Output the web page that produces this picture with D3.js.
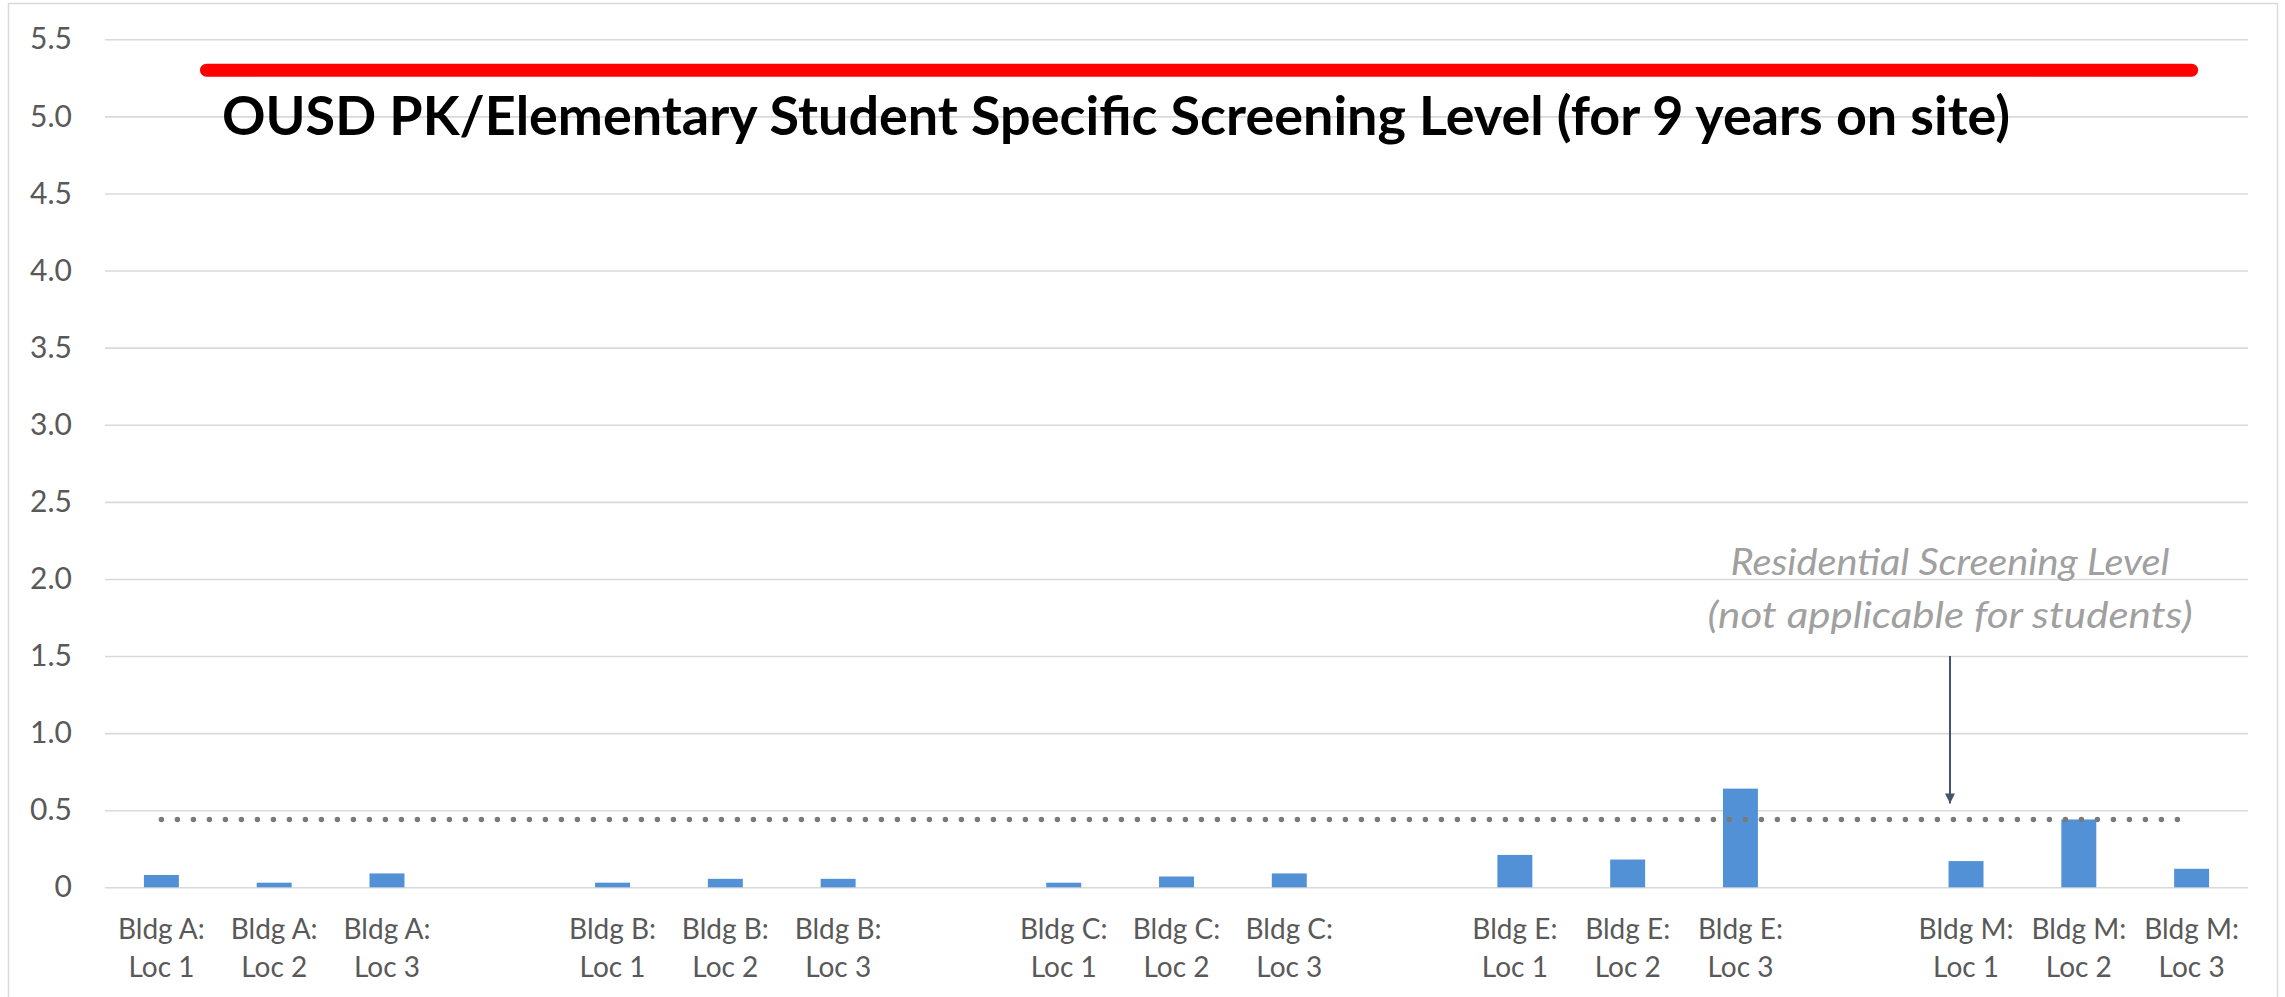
<!DOCTYPE html>
<html>
<head>
<meta charset="utf-8">
<script src="https://cdn.jsdelivr.net/npm/d3@7"></script>
<style>
  html, body { margin: 0; padding: 0; background: #ffffff; }
  svg { display: block; }
</style>
</head>
<body>
<svg id="chart" width="2285" height="997"></svg>
<script>
// ---- data ----
const categories = [
  "Bldg A:|Loc 1", "Bldg A:|Loc 2", "Bldg A:|Loc 3", "gap1",
  "Bldg B:|Loc 1", "Bldg B:|Loc 2", "Bldg B:|Loc 3", "gap2",
  "Bldg C:|Loc 1", "Bldg C:|Loc 2", "Bldg C:|Loc 3", "gap3",
  "Bldg E:|Loc 1", "Bldg E:|Loc 2", "Bldg E:|Loc 3", "gap4",
  "Bldg M:|Loc 1", "Bldg M:|Loc 2", "Bldg M:|Loc 3"
];
const values = [
  0.08, 0.03, 0.09, null,
  0.03, 0.055, 0.055, null,
  0.03, 0.07, 0.09, null,
  0.21, 0.18, 0.64, null,
  0.17, 0.44, 0.12
];
const yTicks = [0, 0.5, 1.0, 1.5, 2.0, 2.5, 3.0, 3.5, 4.0, 4.5, 5.0, 5.5];
const studentLevel = 5.3;
const residentialLevel = 0.44;
const studentLabel = "OUSD PK/Elementary Student Specific Screening Level (for 9 years on site)";
const residentialLabel = ["Residential Screening Level", "(not applicable for students)"];

// ---- layout ----
const svg = d3.select("#chart");
const plotLeft = 105, plotRight = 2248, plotTop = 39.3, plotBottom = 887.3;
const font = "Lato, 'Open Sans', 'DejaVu Sans', sans-serif";

// outer border
svg.append("rect")
  .attr("x", 8.5).attr("y", 3.5)
  .attr("width", 2269).attr("height", 1010)
  .attr("fill", "none").attr("stroke", "#d9d9d9").attr("stroke-width", 1.5);

const x = d3.scaleBand()
  .domain(categories)
  .range([plotLeft, plotRight])
  .paddingInner(0.69)
  .paddingOuter(0.345);

const y = d3.scaleLinear()
  .domain([0, 5.5])
  .range([plotBottom, plotTop]);

const cx = d => x(d) + x.bandwidth() / 2;

// y axis with gridlines
const yAxis = svg.append("g")
  .attr("transform", `translate(${plotLeft},0)`)
  .call(d3.axisLeft(y)
    .tickValues(yTicks)
    .tickSize(-(plotRight - plotLeft))
    .tickPadding(33)
    .tickFormat(d => d === 0 ? "0" : d.toFixed(1)));
yAxis.select(".domain").remove();
yAxis.selectAll(".tick line").attr("stroke", "#d9d9d9").attr("stroke-width", 1.6);
yAxis.selectAll(".tick text")
  .attr("fill", "#595959")
  .style("font-family", font)
  .style("font-size", "30px");

// x axis labels
const xAxis = svg.append("g")
  .attr("transform", `translate(0,${plotBottom})`)
  .call(d3.axisBottom(x).tickSize(0).tickFormat(d => d.startsWith("gap") ? "" : d));
xAxis.select(".domain").remove();
xAxis.selectAll(".tick text").each(function(d) {
  const t = d3.select(this);
  t.text(null).attr("y", 0).attr("dy", null)
    .attr("fill", "#595959")
    .style("font-family", font)
    .style("font-size", "28px");
  if (d.startsWith("gap")) return;
  const parts = d.split("|");
  t.append("tspan").attr("x", 0).attr("y", 52).text(parts[0]);
  t.append("tspan").attr("x", 0).attr("y", 90).text(parts[1]);
});

// bars
svg.append("g").selectAll("rect")
  .data(categories.map((c, i) => ({ c, v: values[i] })).filter(d => d.v !== null))
  .join("rect")
  .attr("x", d => x(d.c))
  .attr("width", x.bandwidth())
  .attr("y", d => y(d.v))
  .attr("height", d => y(0) - y(d.v))
  .attr("fill", "#5391d6");

// residential dotted line
svg.append("line")
  .attr("x1", cx(categories[0]))
  .attr("x2", cx(categories[categories.length - 1]))
  .attr("y1", y(residentialLevel))
  .attr("y2", y(residentialLevel))
  .attr("stroke", "#7a7a7a")
  .attr("stroke-width", 5.5)
  .attr("stroke-linecap", "round")
  .attr("stroke-dasharray", "0 16");

// student screening level red line
svg.append("line")
  .attr("x1", cx(categories[0]) + x.step() * 0.4)
  .attr("x2", cx(categories[categories.length - 1]))
  .attr("y1", y(studentLevel))
  .attr("y2", y(studentLevel))
  .attr("stroke", "#ff0000")
  .attr("stroke-width", 13)
  .attr("stroke-linecap", "round");

// title label
svg.append("text")
  .attr("x", 222)
  .attr("y", 135)
  .attr("textLength", 1788)
  .attr("lengthAdjust", "spacingAndGlyphs")
  .attr("fill", "#000000")
  .style("font-family", font)
  .style("font-weight", "bold")
  .style("font-size", "54px")
  .text(studentLabel);

// residential annotation
const annX = 1950;
const annLines = [
  { t: residentialLabel[0], y: 575, w: 439 },
  { t: residentialLabel[1], y: 628, w: 485 }
];
annLines.forEach(l => {
  svg.append("text")
    .attr("x", annX - l.w / 2).attr("y", l.y)
    .attr("textLength", l.w)
    .attr("lengthAdjust", "spacingAndGlyphs")
    .attr("fill", "#a0a0a0")
    .style("font-family", font)
    .style("font-style", "italic")
    .style("font-size", "37px")
    .text(l.t);
});

// arrow
const defs = svg.append("defs");
defs.append("marker")
  .attr("id", "arrowhead")
  .attr("viewBox", "0 0 10 10")
  .attr("refX", 10).attr("refY", 5)
  .attr("markerWidth", 5).attr("markerHeight", 5)
  .attr("markerUnits", "strokeWidth")
  .attr("orient", "auto")
  .append("path")
  .attr("d", "M0,0 L10,5 L0,10 Z")
  .attr("fill", "#44546a");
svg.append("line")
  .attr("x1", annX).attr("x2", annX)
  .attr("y1", y(1.5)).attr("y2", y(residentialLevel) - 16)
  .attr("stroke", "#44546a")
  .attr("stroke-width", 2)
  .attr("marker-end", "url(#arrowhead)");
</script>
</body>
</html>
